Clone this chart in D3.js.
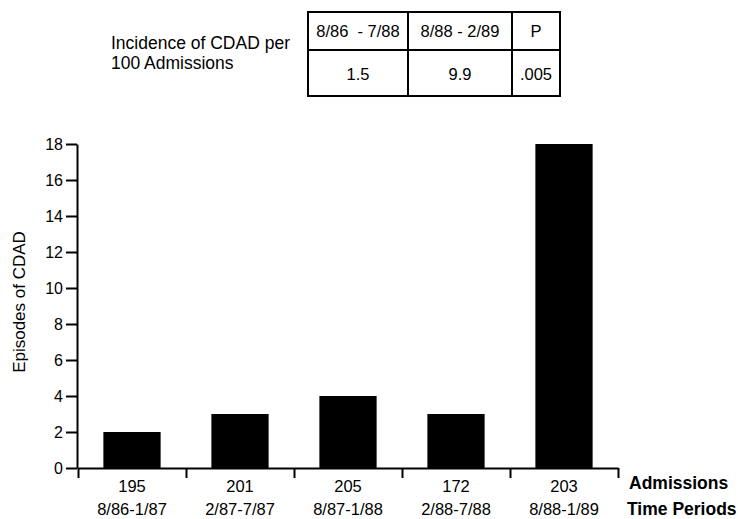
<!DOCTYPE html>
<html>
<head>
<meta charset="utf-8">
<script src="https://cdn.jsdelivr.net/npm/d3@7"></script>
<style>
  body { margin: 0; background: #fff; }
  svg text { font-family: Arial, "Liberation Sans", Helvetica, sans-serif; fill: #000; }
</style>
</head>
<body>
<span></span>
<script>
// episodes of CDAD per six month period, with incidence table on top

var periods = ["8/86-1/87", "2/87-7/87", "8/87-1/88", "2/88-7/88", "8/88-1/89"];
var admissions = [195, 201, 205, 172, 203];
var episodes = [2, 3, 4, 3, 18];

var yTicks = [0, 2, 4, 6, 8, 10, 12, 14, 16, 18];

var tableHead = ["8/86  - 7/88", "8/88 - 2/89", "P"];
var tableVals = ["1.5", "9.9", ".005"];

var width = 738, height = 519;
var margin = {top: 144, right: 120, bottom: 51, left: 78};

var svg = d3.select("span")
    .append("svg")
    .attr("width", width)
    .attr("height", height);

// scales
var xScale = d3.scaleBand()
    .domain(d3.range(periods.length))
    .range([margin.left, width - margin.right])
    .paddingInner(0.47)
    .paddingOuter(0.235);
var xEdge = d3.scaleLinear()
    .domain([0, periods.length])
    .range([margin.left, width - margin.right]);
var yScale = d3.scaleLinear()
    .domain([0, 18])
    .range([height - margin.bottom, margin.top]);

// bars
svg.append("g")
    .selectAll("rect")
    .data(episodes)
    .join("rect")
    .attr("x", (d, i) => xScale(i))
    .attr("y", d => yScale(d))
    .attr("width", xScale.bandwidth())
    .attr("height", d => yScale(0) - yScale(d))
    .attr("fill", "#000");

// y axis
var yAxis = svg.append("g")
    .attr("transform", `translate(${margin.left - 1}, 0)`)
    .call(d3.axisLeft(yScale).tickValues(yTicks).tickSize(11).tickSizeOuter(0).tickPadding(3));
yAxis.selectAll("text").style("font-size", "16px");
yAxis.selectAll("line,path").attr("stroke", "#000").attr("stroke-width", 2);

// x axis, ticks on the band edges
var xAxis = svg.append("g")
    .attr("transform", `translate(0, ${yScale(0)})`)
    .call(d3.axisBottom(xEdge).tickValues(d3.range(periods.length + 1)).tickFormat("").tickSize(10).tickSizeOuter(0));
xAxis.selectAll("line,path").attr("stroke", "#000").attr("stroke-width", 2);

// category labels
svg.append("g")
    .selectAll("text")
    .data(admissions)
    .join("text")
    .attr("x", (d, i) => xScale(i) + xScale.bandwidth() / 2)
    .attr("y", 492)
    .attr("text-anchor", "middle")
    .style("font-size", "16.5px")
    .text(d => d);

svg.append("g")
    .selectAll("text")
    .data(periods)
    .join("text")
    .attr("x", (d, i) => xScale(i) + xScale.bandwidth() / 2)
    .attr("y", 515)
    .attr("text-anchor", "middle")
    .style("font-size", "16.5px")
    .text(d => d);

svg.append("text")
    .attr("x", 629).attr("y", 489)
    .style("font-size", "17.5px").style("font-weight", "bold")
    .text("Admissions");
svg.append("text")
    .attr("x", 627).attr("y", 515)
    .style("font-size", "17.5px").style("font-weight", "bold")
    .text("Time Periods");

// y title
svg.append("text")
    .attr("transform", "translate(25, 302) rotate(-90)")
    .attr("text-anchor", "middle")
    .style("font-size", "17px")
    .text("Episodes of CDAD");

// incidence table
svg.append("text")
    .attr("x", 111).attr("y", 49)
    .style("font-size", "17.5px")
    .text("Incidence of CDAD per");
svg.append("text")
    .attr("x", 111).attr("y", 69)
    .style("font-size", "17.5px")
    .text("100 Admissions");

var colEdges = [308, 408, 512, 560];
var rowEdges = [12, 50, 96];

var table = svg.append("g");
table.append("rect")
    .attr("x", colEdges[0]).attr("y", rowEdges[0])
    .attr("width", colEdges[3] - colEdges[0])
    .attr("height", rowEdges[2] - rowEdges[0])
    .attr("fill", "none").attr("stroke", "#000").attr("stroke-width", 2);
table.append("line")
    .attr("x1", colEdges[0]).attr("x2", colEdges[3])
    .attr("y1", rowEdges[1]).attr("y2", rowEdges[1])
    .attr("stroke", "#000").attr("stroke-width", 2);
table.selectAll(".col")
    .data(colEdges.slice(1, 3))
    .join("line")
    .attr("x1", d => d).attr("x2", d => d)
    .attr("y1", rowEdges[0]).attr("y2", rowEdges[2])
    .attr("stroke", "#000").attr("stroke-width", 2);

table.selectAll(".head")
    .data(tableHead)
    .join("text")
    .attr("x", (d, i) => (colEdges[i] + colEdges[i + 1]) / 2)
    .attr("y", 37)
    .attr("text-anchor", "middle")
    .style("font-size", "16.5px")
    .style("white-space", "pre")
    .text(d => d);
table.selectAll(".val")
    .data(tableVals)
    .join("text")
    .attr("x", (d, i) => (colEdges[i] + colEdges[i + 1]) / 2)
    .attr("y", 80)
    .attr("text-anchor", "middle")
    .style("font-size", "16.5px")
    .text(d => d);
</script>
</body>
</html>
